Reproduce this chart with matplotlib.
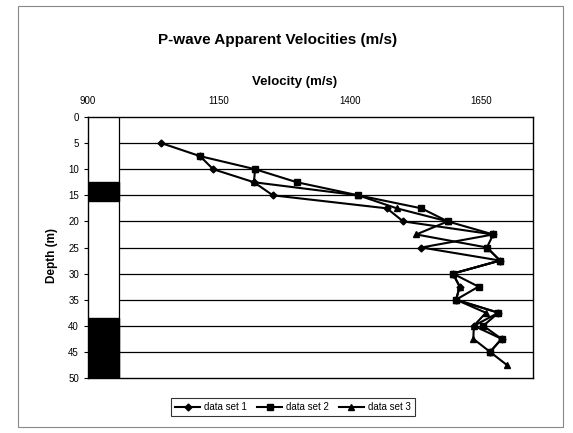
import matplotlib
matplotlib.use("Agg")
import matplotlib.pyplot as plt
from matplotlib.patches import Rectangle

plt.rcParams['font.family'] = ['Liberation Sans', 'DejaVu Sans']

# ---- data ----
depth_1 = [5, 7.5, 10, 12.5, 15, 17.5, 20, 22.5, 25, 27.5, 30, 32.5, 35, 37.5, 40, 42.5, 45]
vel_1 = [1040, 1114, 1139, 1217, 1253, 1471, 1502, 1674, 1537, 1687, 1597, 1610, 1603, 1684, 1637, 1690, 1668]

depth_2 = [7.5, 10, 12.5, 15, 17.5, 20, 22.5, 25, 27.5, 30, 32.5, 35, 37.5, 40, 42.5, 45]
vel_2 = [1114, 1219, 1299, 1416, 1537, 1587, 1674, 1662, 1687, 1597, 1646, 1603, 1684, 1655, 1690, 1668]

depth_3 = [10, 12.5, 15, 17.5, 20, 22.5, 25, 27.5, 30, 32.5, 35, 37.5, 40, 42.5, 45, 47.5]
vel_3 = [1219, 1217, 1416, 1490, 1587, 1527, 1662, 1687, 1597, 1610, 1603, 1660, 1637, 1636, 1668, 1700]

series_names = ["data set 1", "data set 2", "data set 3"]
x_ticks = [900, 1150, 1400, 1650]
y_ticks = [0, 5, 10, 15, 20, 25, 30, 35, 40, 45, 50]

# lithology column (dark layers) : (top depth, bottom depth)
dark_layers = [(12.5, 16.0), (38.5, 50.0)]
litho_right = 960

fig = plt.figure(figsize=(5.73, 4.33), dpi=100)
fig.patch.set_facecolor('white')
# outer chart border
fig.add_artist(Rectangle((0.032, 0.015), 0.950, 0.970, transform=fig.transFigure,
                         fill=False, edgecolor='#888888', lw=0.8))

ax = fig.add_axes([0.1536, 0.127, 0.7766, 0.6028])
ax.set_xlim(900, 1750)
ax.set_ylim(50, 0)

# horizontal gridlines (from lithology column to right edge)
ax.hlines(y_ticks[1:-1], litho_right, 1750, colors='black', lw=0.9, zorder=1)
# lithology column
ax.vlines(litho_right, 0, 50, colors='black', lw=0.9, zorder=1)
for top, bot in dark_layers:
    ax.add_patch(Rectangle((900, top), litho_right - 900, bot - top,
                           facecolor='black', edgecolor='black', zorder=1))

ax.plot(vel_1, depth_1, color='black', lw=1.5, marker='D', ms=3.5, label=series_names[0], zorder=3)
ax.plot(vel_2, depth_2, color='black', lw=1.5, marker='s', ms=4.5, label=series_names[1], zorder=3)
ax.plot(vel_3, depth_3, color='black', lw=1.5, marker='^', ms=4.5, label=series_names[2], zorder=3)

ax.xaxis.tick_top()
ax.xaxis.set_label_position('top')
ax.set_xticks(x_ticks)
ax.set_yticks(y_ticks)
ax.tick_params(axis='both', labelsize=7, length=3, width=0.8, direction='out')
ax.tick_params(axis='x', pad=8, length=0)
for s in ax.spines.values():
    s.set_linewidth(1.0)
    s.set_color('black')

ax.set_xlabel("Velocity (m/s)", fontsize=9.5, fontweight='bold')
ax.xaxis.set_label_coords((295 - 88) / 445, 1 + (117 - 85) / 261)
ax.set_ylabel("Depth (m)", fontsize=8.5, fontweight='bold')
ax.yaxis.set_label_coords(-(88 - 58) / 445, (378 - 255) / 261)

fig.text(278 / 573, 1 - 40 / 433, "P-wave Apparent Velocities (m/s)", ha='center', va='center',
         fontsize=11, fontweight='bold')

leg = fig.legend(loc='center', bbox_to_anchor=(293 / 573, 1 - 407 / 433), ncol=3, fontsize=7,
                 frameon=True, fancybox=False, edgecolor='black', handlelength=2.6,
                 columnspacing=1.0, handletextpad=0.4, borderpad=0.45)
leg.get_frame().set_linewidth(0.8)

fig.savefig("out.png", dpi=100)
